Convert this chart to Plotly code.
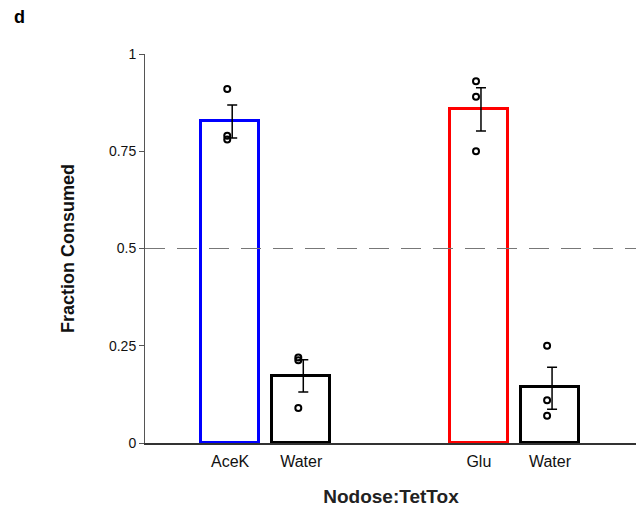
import plotly.graph_objects as go

categories = ["AceK", "Water", "Glu", "Water"]
x_pos = [1, 2, 4.5, 5.5]
means = [0.828, 0.173, 0.858, 0.144]
sem_upper = [0.041, 0.041, 0.055, 0.051]
sem_lower = [0.044, 0.042, 0.056, 0.057]
points = [[0.91, 0.79, 0.78], [0.22, 0.213, 0.09], [0.93, 0.89, 0.75], [0.25, 0.11, 0.07]]
edge_colors = ["#0000ff", "#000000", "#ff0000", "#000000"]
y_ticks = [0, 0.25, 0.5, 0.75, 1]
y_tick_text = ["0", "0.25", "0.5", "0.75", "1"]

FONT = "Liberation Sans, Arial, sans-serif"

# page has an 8px body margin; figure sized to fill the rest
W, H = 636, 499
L, R, T, B = 137, 7, 46, 64
PW, PH = W - L - R, H - T - B

fig = go.Figure()
fig.add_trace(go.Bar(
    x=x_pos, y=means, width=0.82,
    marker=dict(color="white", line=dict(color=edge_colors, width=3)),
    showlegend=False, hoverinfo="skip",
))
fig.add_trace(go.Scatter(
    x=[x + 0.03 for x in x_pos], y=means, mode="markers",
    marker=dict(size=1, color="black"),
    error_y=dict(type="data", symmetric=False, array=sem_upper, arrayminus=sem_lower,
                 color="black", thickness=1.5, width=5),
    showlegend=False,
))
px, py = [], []
for x, pts in zip(x_pos, points):
    for p in pts:
        px.append(x - 0.04)
        py.append(p)
fig.add_trace(go.Scatter(
    x=px, y=py, mode="markers",
    marker=dict(symbol="circle-open", size=6, color="black", line=dict(width=2, color="black")),
    showlegend=False,
))
fig.add_shape(type="line", xref="x", yref="y", x0=-0.197, x1=6.725, y0=0.5, y1=0.5,
              line=dict(color="#777777", width=1.2, dash="20px,12px"))

fig.update_layout(
    width=W, height=H,
    margin=dict(l=L, r=R, t=T, b=B),
    paper_bgcolor="white", plot_bgcolor="white",
    font=dict(family=FONT, color="black", size=12),
    xaxis=dict(range=[-0.197, 6.725], tickvals=x_pos, ticktext=categories, automargin=False,
               showgrid=False, zeroline=False, showline=True, linecolor="#333333", linewidth=1.5,
               ticks="", ticklabelstandoff=3, tickfont=dict(size=16, family=FONT, color="#111111"),
               title=dict(text="<b>Nodose:TetTox</b>", font=dict(size=19, family=FONT, color="#222222"),
                          standoff=22)),
    yaxis=dict(range=[0, 1], tickvals=y_ticks, ticktext=y_tick_text, automargin=False,
               showgrid=False, zeroline=False, showline=True, linecolor="#555555", linewidth=1,
               ticks="outside", ticklen=5, tickcolor="#555555",
               tickfont=dict(size=14, family=FONT, color="#111111"),
               title=dict(text="<b>Fraction Consumed</b>", font=dict(size=18, family=FONT, color="#111111"),
                          standoff=29)),
    bargap=0,
)
fig.add_annotation(text="<b>d</b>", xref="paper", yref="paper",
                   x=(12 - L) / PW, y=1 + (T - 9) / PH,
                   xanchor="center", yanchor="middle", showarrow=False,
                   font=dict(size=18, family=FONT, color="black"))

fig.write_html("out.html")
